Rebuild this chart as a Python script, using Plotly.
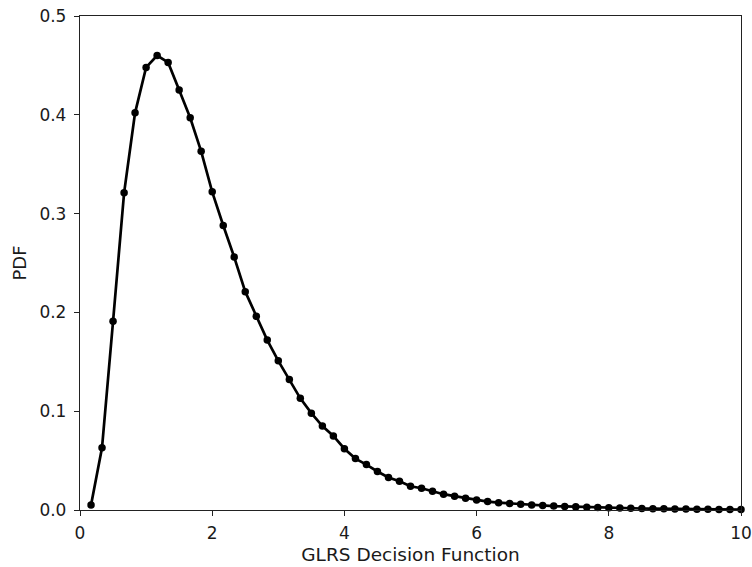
import plotly.graph_objects as go

x_vals = [0.167, 0.333, 0.5, 0.667, 0.833, 1.0, 1.167, 1.333, 1.5, 1.667,
          1.833, 2.0, 2.167, 2.333, 2.5, 2.667, 2.833, 3.0, 3.167, 3.333,
          3.5, 3.667, 3.833, 4.0, 4.167, 4.333, 4.5, 4.667, 4.833, 5.0,
          5.167, 5.333, 5.5, 5.667, 5.833, 6.0, 6.167, 6.333, 6.5, 6.667,
          6.833, 7.0, 7.167, 7.333, 7.5, 7.667, 7.833, 8.0, 8.167, 8.333,
          8.5, 8.667, 8.833, 9.0, 9.167, 9.333, 9.5, 9.667, 9.833, 10.0]
pdf_vals = [0.005, 0.063, 0.191, 0.321, 0.402, 0.448, 0.460, 0.453, 0.425, 0.397,
            0.363, 0.322, 0.288, 0.256, 0.221, 0.196, 0.172, 0.151, 0.132, 0.113,
            0.098, 0.085, 0.075, 0.062, 0.052, 0.046, 0.039, 0.033, 0.029, 0.024,
            0.022, 0.019, 0.016, 0.014, 0.012, 0.010, 0.0085, 0.0074, 0.0066, 0.0058,
            0.0051, 0.0045, 0.0040, 0.0036, 0.0032, 0.0028, 0.0025, 0.0022, 0.0019, 0.0017,
            0.0015, 0.0013, 0.0012, 0.0010, 0.0009, 0.0008, 0.0007, 0.0006, 0.0005, 0.0005]

x_ticks = [0, 2, 4, 6, 8, 10]
y_ticks = [0.0, 0.1, 0.2, 0.3, 0.4, 0.5]

fig = go.Figure()
fig.add_trace(go.Scatter(
    x=x_vals, y=pdf_vals, mode="lines+markers",
    line=dict(color="black", width=2.7),
    marker=dict(color="black", size=7.5),
    showlegend=False,
    cliponaxis=False,
))

font_color = "#1a1a1a"
axis_common = dict(
    showline=True, mirror=True, linecolor="#222222", linewidth=1.3,
    ticks="outside", ticklen=5, tickwidth=1.3, tickcolor="#222222",
    showgrid=False, zeroline=False, automargin=False,
    tickfont=dict(family="DejaVu Sans", size=17, color=font_color),
)

fig.update_layout(
    width=752, height=567,
    margin=dict(l=80, r=11, t=16, b=57),
    paper_bgcolor="white", plot_bgcolor="white",
    font=dict(family="DejaVu Sans", size=17, color=font_color),
    xaxis=dict(range=[0, 10], tickvals=x_ticks, ticklabelstandoff=2,
               title=dict(text="GLRS Decision Function", standoff=6,
                          font=dict(size=18.5, color=font_color)),
               **axis_common),
    yaxis=dict(range=[0, 0.5], tickvals=y_ticks, tickformat=".1f", ticklabelstandoff=4,
               title=dict(text="PDF", standoff=8,
                          font=dict(size=18, color=font_color)),
               **axis_common),
)

fig.write_html("out.html")
